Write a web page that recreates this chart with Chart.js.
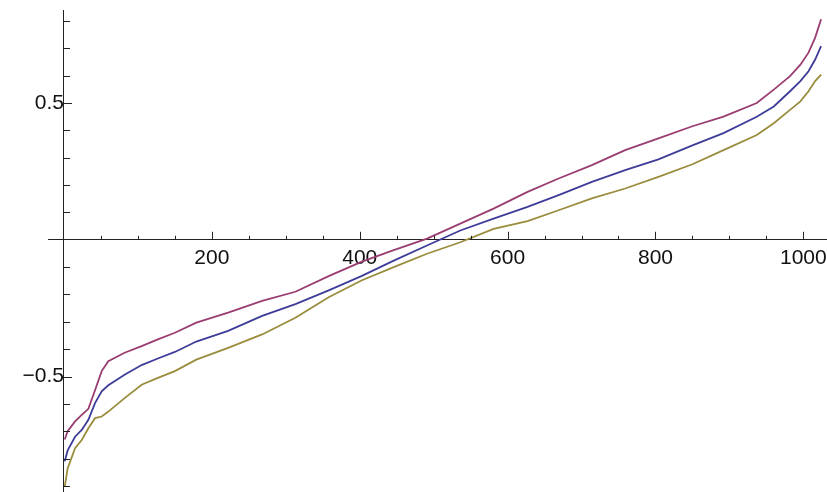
<!DOCTYPE html>
<html>
<head>
<meta charset="utf-8">
<script src="https://cdn.jsdelivr.net/npm/chart.js@4/dist/chart.umd.min.js"></script>
<style>
  body { margin: 0; background: #fff; }
  #wrap { width: 827px; height: 492px; }
</style>
</head>
<body>
<div id="wrap"><canvas id="plot" width="827" height="492"></canvas></div>
<script>
// sample positions (shared by the three curves)
const xValues = [1, 5, 15, 24, 33, 42, 51, 60, 82, 105, 127, 150, 179, 222, 268, 313, 358, 403,
  446, 491, 536, 581, 627, 669, 714, 759, 804, 850, 892, 937, 960, 982, 996, 1007, 1016, 1024];

// curves
const purpleValues = [-0.73, -0.70, -0.664, -0.64, -0.618, -0.55, -0.48, -0.444, -0.413, -0.389, -0.364, -0.34,
  -0.303, -0.266, -0.223, -0.19, -0.133, -0.08, -0.038, 0.004, 0.059, 0.114, 0.175, 0.224, 0.273, 0.328,
  0.371, 0.415, 0.45, 0.50, 0.549, 0.598, 0.64, 0.684, 0.739, 0.806];
const blueValues = [-0.81, -0.77, -0.72, -0.695, -0.658, -0.597, -0.554, -0.532, -0.493, -0.458, -0.434, -0.41,
  -0.372, -0.333, -0.278, -0.235, -0.185, -0.132, -0.076, -0.021, 0.034, 0.077, 0.12, 0.163, 0.212, 0.255,
  0.294, 0.345, 0.39, 0.45, 0.4875, 0.543, 0.58, 0.616, 0.659, 0.708];
const oliveValues = [-0.903, -0.836, -0.762, -0.732, -0.689, -0.652, -0.646, -0.628, -0.579, -0.53, -0.505, -0.48,
  -0.438, -0.395, -0.346, -0.285, -0.21, -0.148, -0.10, -0.051, -0.009, 0.04, 0.068, 0.108, 0.151, 0.1875,
  0.23, 0.276, 0.328, 0.383, 0.426, 0.475, 0.506, 0.543, 0.58, 0.604];

// tick labels
const xLabels = [200, 400, 600, 800, 1000];
const yLabels = [-0.5, 0.5];

const axisColor = '#222';

function toPoints(values) {
    return values.map((v, i) => ({ x: xValues[i], y: v }));
}

// axes sit on the origin, so they should not eat any room from the plot
function noRoom(scale) {
    scale.paddingLeft = 0;
    scale.paddingRight = 0;
    scale.paddingTop = 0;
    scale.paddingBottom = 0;
    if (scale.isHorizontal()) scale.height = 0;
    else scale.width = 0;
}

// Mathematica style ticks pointing into the plot
const inwardTicks = {
    id: 'inwardTicks',
    afterDraw(chart) {
        const xs = chart.scales.x;
        const ys = chart.scales.y;
        const ctx = chart.ctx;
        const x0 = xs.getPixelForValue(0);
        const y0 = ys.getPixelForValue(0);
        ctx.save();
        ctx.strokeStyle = axisColor;
        ctx.lineWidth = 1;
        ctx.beginPath();
        for (let v = 50; v <= 1000; v += 50) {
            const px = Math.round(xs.getPixelForValue(v)) + 0.5;
            const len = xLabels.includes(v) ? 8 : 4;
            ctx.moveTo(px, y0);
            ctx.lineTo(px, y0 - len);
        }
        for (let k = -9; k <= 8; k++) {
            if (k === 0) continue;
            const v = k / 10;
            const py = Math.round(ys.getPixelForValue(v)) + 0.5;
            const len = (k === 5 || k === -5) ? 8 : 6;
            ctx.moveTo(x0, py);
            ctx.lineTo(x0 + len, py);
        }
        ctx.stroke();
        ctx.restore();
    }
};

const labelFont = { family: 'Liberation Sans', size: 21 };

new Chart(document.getElementById('plot'), {
    type: 'line',
    data: {
        datasets: [
            { data: toPoints(purpleValues), borderColor: '#993d71' },
            { data: toPoints(blueValues), borderColor: '#3d3d99' },
            { data: toPoints(oliveValues), borderColor: '#998c3d' }
        ]
    },
    options: {
        responsive: false,
        animation: false,
        devicePixelRatio: 1,
        layout: { padding: { left: 48, top: 10, right: 0, bottom: 0 } },
        elements: {
            line: { borderWidth: 1.8, tension: 0, fill: false },
            point: { radius: 0 }
        },
        plugins: {
            legend: { display: false },
            tooltip: { enabled: false }
        },
        scales: {
            x: {
                type: 'linear',
                position: { y: 0 },
                min: -21.6,
                max: 1032,
                grid: { display: false, drawTicks: false },
                border: { display: true, color: axisColor, width: 1 },
                afterBuildTicks: (scale) => { scale.ticks = xLabels.map(v => ({ value: v })); },
                afterFit: noRoom,
                ticks: {
                    padding: 6,
                    color: '#111',
                    font: labelFont,
                    maxRotation: 0,
                    autoSkip: false,
                    callback: (v) => String(v)
                }
            },
            y: {
                type: 'linear',
                position: { x: 0 },
                min: -0.922,
                max: 0.84,
                grid: { display: false, drawTicks: false },
                border: { display: true, color: axisColor, width: 1 },
                afterBuildTicks: (scale) => { scale.ticks = yLabels.map(v => ({ value: v })); },
                afterFit: noRoom,
                ticks: {
                    padding: 6,
                    color: '#111',
                    font: labelFont,
                    autoSkip: false,
                    callback: (v) => String(v).replace('-', '\u2212')
                }
            }
        }
    },
    plugins: [inwardTicks]
});
</script>
</body>
</html>
